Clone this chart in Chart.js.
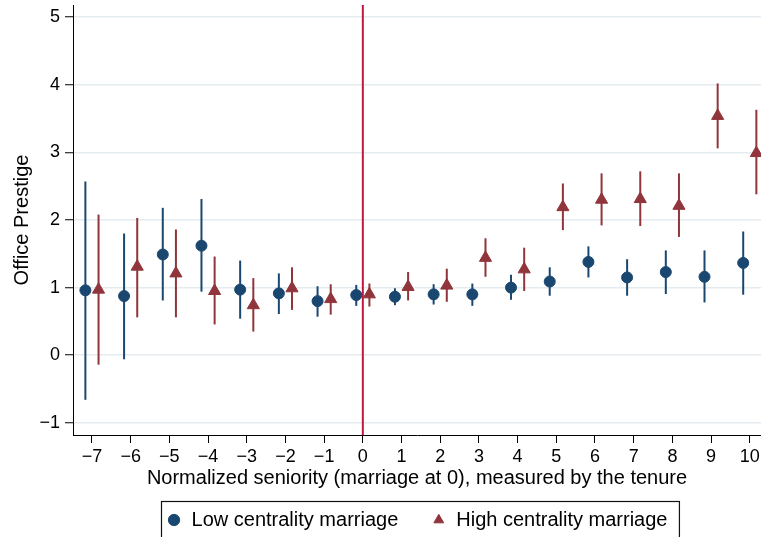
<!DOCTYPE html>
<html>
<head>
<meta charset="utf-8">
<script src="https://cdn.jsdelivr.net/npm/chart.js@4.4.1/dist/chart.umd.min.js"></script>
<style>
html,body{margin:0;padding:0;background:#fff;}
canvas{display:block;}
</style>
</head>
<body>
<canvas id="c" width="761" height="537"></canvas>
<script>
// ---- data ----
const seniority = [-7,-6,-5,-4,-3,-2,-1,0,1,2,3,4,5,6,7,8,9,10];
const xTickLabels = ['\u22127','\u22126','\u22125','\u22124','\u22123','\u22122','\u22121','0','1','2','3','4','5','6','7','8','9','10'];
const yTickValues = [-1,0,1,2,3,4,5];
const yTickLabels = ['\u22121','0','1','2','3','4','5'];

const lowEst = [0.96, 0.875, 1.49, 1.62, 0.97, 0.915, 0.80, 0.89, 0.865, 0.90, 0.90, 1.00, 1.09, 1.38, 1.15, 1.23, 1.16, 1.365];
const lowLo  = [-0.66, -0.06, 0.81, 0.94, 0.54, 0.61, 0.57, 0.73, 0.74, 0.75, 0.73, 0.82, 0.88, 1.15, 0.88, 0.905, 0.78, 0.895];
const lowHi  = [2.57, 1.80, 2.18, 2.31, 1.40, 1.21, 1.02, 1.04, 0.99, 1.05, 1.06, 1.19, 1.30, 1.61, 1.42, 1.55, 1.55, 1.83];

const highEst = [0.97, 1.31, 1.21, 0.95, 0.74, 0.99, 0.83, 0.90, 1.01, 1.03, 1.44, 1.27, 2.19, 2.30, 2.31, 2.21, 3.54, 2.99];
const highLo  = [-0.14, 0.56, 0.56, 0.455, 0.35, 0.67, 0.60, 0.72, 0.81, 0.79, 1.16, 0.95, 1.85, 1.92, 1.91, 1.75, 3.06, 2.38];
const highHi  = [2.08, 2.03, 1.86, 1.46, 1.14, 1.30, 1.05, 1.06, 1.23, 1.28, 1.73, 1.59, 2.54, 2.69, 2.72, 2.69, 4.02, 3.63];

const seriesNames = ['Low centrality marriage', 'High centrality marriage'];
const xTitle = 'Normalized seniority (marriage at 0), measured by the tenure';
const yTitle = 'Office Prestige';

// ---- styles ----
const NAVY = '#1a476f';
const MAROON = '#90353b';
const REDLINE = '#c4173f';
const GRID = '#e4ecf0';
const FONT = "'Liberation Sans', Arial, Helvetica, sans-serif";
const SHIFT = 0.17;

function points(est, lo, hi, dx) {
  return seniority.map((s, i) => ({x: s + dx, y: est[i], lo: lo[i], hi: hi[i]}));
}

const errorBars = {
  id: 'errorBars',
  beforeDatasetsDraw(chart) {
    const {ctx, chartArea: a, scales: {x, y}} = chart;
    ctx.save();
    const x0 = x.getPixelForValue(0);
    ctx.strokeStyle = REDLINE;
    ctx.lineWidth = 2;
    ctx.beginPath();
    ctx.moveTo(x0, a.top);
    ctx.lineTo(x0, a.bottom);
    ctx.stroke();
    chart.data.datasets.forEach(ds => {
      ctx.strokeStyle = ds.errorColor;
      ctx.lineWidth = 2;
      ds.data.forEach(p => {
        const px = x.getPixelForValue(p.x);
        ctx.beginPath();
        ctx.moveTo(px, y.getPixelForValue(p.lo));
        ctx.lineTo(px, y.getPixelForValue(p.hi));
        ctx.stroke();
      });
    });
    ctx.restore();
  }
};

const legendBox = {
  id: 'legendBox',
  afterDraw(chart) {
    const lg = chart.legend;
    if (!lg || !lg.legendHitBoxes || !lg.legendHitBoxes.length) return;
    const hb = lg.legendHitBoxes;
    const first = hb[0], last = hb[hb.length - 1];
    const cy = first.top + first.height / 2;
    const l = first.left - 6;
    const r = last.left + last.width + 11;
    const t = cy - 19;
    const ctx = chart.ctx;
    ctx.save();
    ctx.strokeStyle = '#111';
    ctx.lineWidth = 1.2;
    ctx.strokeRect(Math.round(l) + 0.5, Math.round(t) + 0.5, r - l, 60);
    ctx.restore();
  }
};

new Chart(document.getElementById('c'), {
  type: 'scatter',
  data: {
    datasets: [
      {
        label: seriesNames[0],
        data: points(lowEst, lowLo, lowHi, -SHIFT),
        pointStyle: 'circle',
        pointRadius: 5.5,
        backgroundColor: NAVY,
        borderColor: NAVY,
        borderWidth: 1,
        errorColor: NAVY
      },
      {
        label: seriesNames[1],
        data: points(highEst, highLo, highHi, SHIFT),
        pointStyle: 'triangle',
        pointRadius: 7,
        backgroundColor: MAROON,
        borderColor: MAROON,
        borderWidth: 1,
        errorColor: MAROON
      }
    ]
  },
  options: {
    responsive: false,
    animation: false,
    devicePixelRatio: 1,
    events: [],
    layout: {autoPadding: false, padding: {top: 5, right: 0, bottom: 0, left: 0}},
    plugins: {
      tooltip: {enabled: false},
      legend: {
        position: 'bottom',
        fullSize: false,
        maxHeight: 60,
        labels: {
          usePointStyle: true,
          boxWidth: 15,
          boxHeight: 8,
          padding: 33,
          color: '#000',
          font: {family: FONT, size: 20}
        }
      }
    },
    scales: {
      x: {
        type: 'linear',
        min: -7.49,
        max: 10.29,
        afterBuildTicks: s => { s.ticks = seniority.map(v => ({value: v})); },
        afterFit: s => { s.height = 42; s.paddingLeft = 0; s.paddingRight = 0; },
        grid: {display: true, drawOnChartArea: false, drawTicks: true, tickLength: 8, tickColor: '#000', tickWidth: 1},
        border: {display: true, color: '#000', width: 1},
        ticks: {
          color: '#000',
          font: {family: FONT, size: 18},
          padding: 3,
          maxRotation: 0,
          autoSkip: false,
          callback: v => xTickLabels[seniority.indexOf(v)]
        },
        title: {
          display: true,
          text: xTitle,
          color: '#000',
          font: {family: FONT, size: 20},
          padding: {top: 0, bottom: -13}
        }
      },
      y: {
        min: -1.18,
        max: 5.18,
        afterBuildTicks: s => { s.ticks = yTickValues.map(v => ({value: v})); },
        afterFit: s => { s.width = 73; s.paddingTop = 0; s.paddingBottom = 0; },
        grid: {color: GRID, lineWidth: 1.5, drawTicks: true, tickLength: 8, tickColor: '#000', tickWidth: 1},
        border: {display: true, color: '#000', width: 1},
        ticks: {
          color: '#000',
          font: {family: FONT, size: 18},
          padding: 5,
          callback: v => yTickLabels[yTickValues.indexOf(v)]
        },
        title: {
          display: true,
          text: yTitle,
          color: '#000',
          font: {family: FONT, size: 20},
          padding: {top: 10, bottom: 0}
        }
      }
    }
  },
  plugins: [errorBars, legendBox]
});
</script>
</body>
</html>
